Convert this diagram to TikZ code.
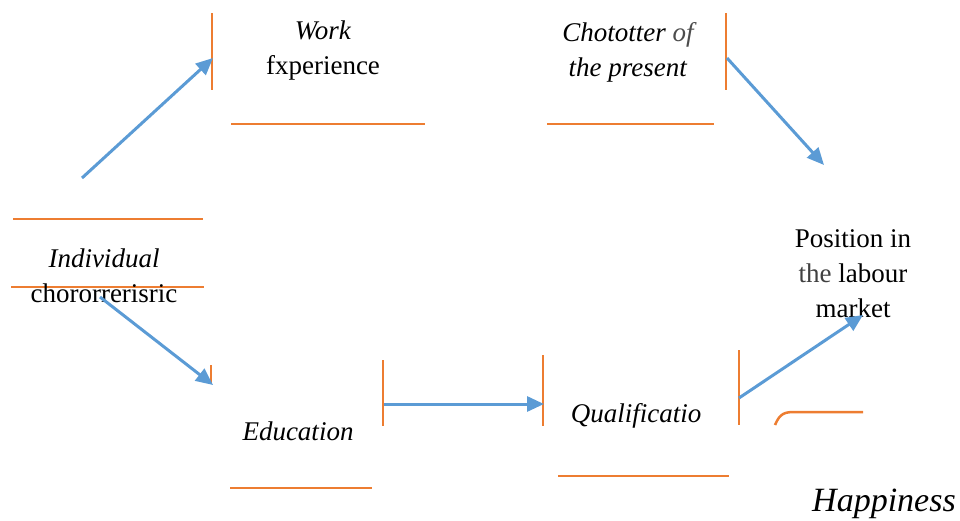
\documentclass[tikz,border=0pt]{standalone}
\usepackage{fontspec}
\setmainfont{Liberation Serif}
\usetikzlibrary{arrows.meta}
\definecolor{org}{HTML}{ED7D31}
\definecolor{blu}{HTML}{5B9BD5}
\tikzset{
  bar/.style={draw=org, line width=2pt},
  conn/.style={draw=blu, line width=3pt, -{Triangle[length=17pt,width=15pt]}},
  lbl/.style={inner sep=0pt, align=center, font=\fontsize{27}{35}\selectfont},
}
\begin{document}
\begin{tikzpicture}[x=1pt,y=-1pt]
\useasboundingbox (0,0) rectangle (960,520);
% box lines
\coordinate (wv1) at (212,13); \coordinate (wv2) at (212,90);
\coordinate (wh1) at (231,124); \coordinate (wh2) at (425,124);
\draw[bar] (wv1) -- (wv2); \draw[bar] (wh1) -- (wh2);
\coordinate (cv1) at (726,13); \coordinate (cv2) at (726,90);
\coordinate (ch1) at (547,124); \coordinate (ch2) at (714,124);
\draw[bar] (cv1) -- (cv2); \draw[bar] (ch1) -- (ch2);
\coordinate (ih1) at (13,219); \coordinate (ih2) at (203,219);
\coordinate (ih3) at (11,287); \coordinate (ih4) at (204,287);
\draw[bar] (ih1) -- (ih2); \draw[bar] (ih3) -- (ih4);
\coordinate (ev1) at (211,365); \coordinate (ev2) at (211,384);
\coordinate (ev3) at (383,360); \coordinate (ev4) at (383,426);
\coordinate (eh1) at (230,488); \coordinate (eh2) at (372,488);
\draw[bar] (ev1) -- (ev2); \draw[bar] (ev3) -- (ev4); \draw[bar] (eh1) -- (eh2);
\coordinate (qv1) at (543,355); \coordinate (qv2) at (543,426);
\coordinate (qv3) at (739,350); \coordinate (qv4) at (739,425);
\coordinate (qh1) at (558,476); \coordinate (qh2) at (729,476);
\draw[bar] (qv1) -- (qv2); \draw[bar] (qv3) -- (qv4); \draw[bar] (qh1) -- (qh2);
\coordinate (hc1) at (775,425); \coordinate (hc2) at (863,412);
\draw[bar, line width=2.5pt] (hc1) .. controls (780,413) and (785,412) .. (795,412) -- (hc2);
% texts
\node[lbl] (work) at (323,51) {\textit{Work}\\fxperience};
\node[lbl] (chot) at (628,52) {\textit{Chototter {\color{black!70}of}}\\\textit{the present}};
\node[lbl] (ind) at (104,276) {\textit{Individual}\\chororrerisric};
\node[lbl] (edu) at (298,431) {\textit{Education}};
\node[lbl] (qual) at (636,416) {\textit{Qualificatio}};
\node[lbl] (pos) at (853,274) {Position in\\{\color{black!75}the} labour\\market};
\node[inner sep=0pt, font=\fontsize{34}{38}\selectfont] (hap) at (884,504) {\textit{Happiness}};
% arrow ends
\coordinate (a1s) at (82,178); \coordinate (a1e) at (213,58);
\coordinate (a2s) at (727,58); \coordinate (a2e) at (824,165);
\coordinate (a3s) at (100,297); \coordinate (a3e) at (213,385);
\coordinate (a4s) at (384,404); \coordinate (a4e) at (544,404);
\coordinate (a5s) at (739,398); \coordinate (a5e) at (863,315);
\draw[conn] (a1s) -- (a1e);
\draw[conn] (a2s) -- (a2e);
\draw[conn] (a3s) -- (a3e);
\draw[conn] (a4s) -- (a4e);
\draw[conn] (a5s) -- (a5e);
\end{tikzpicture}
\end{document}
